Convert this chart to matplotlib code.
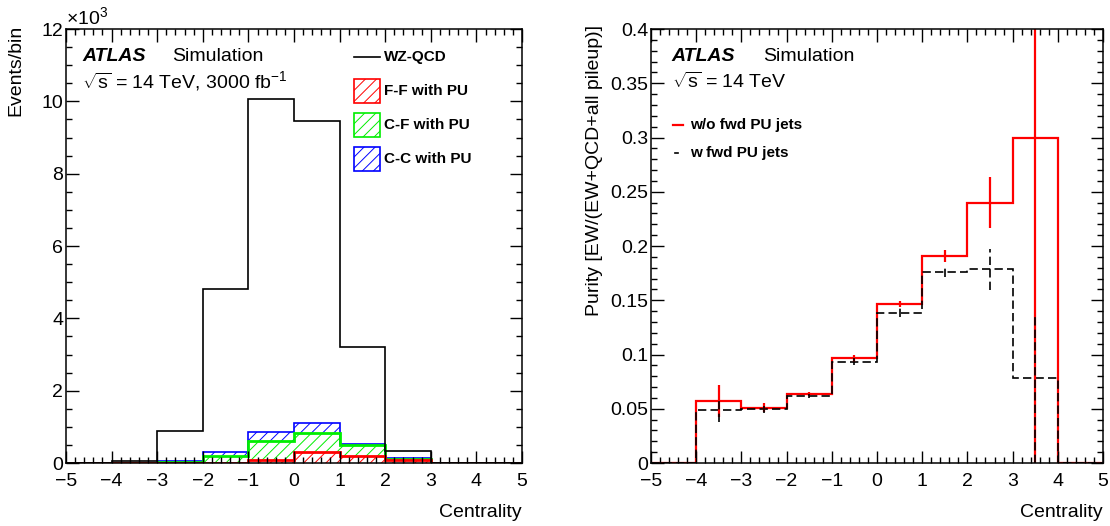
import numpy as np
import matplotlib
matplotlib.use("Agg")
import matplotlib.pyplot as plt
from matplotlib.ticker import MultipleLocator, FuncFormatter
from matplotlib.patches import Rectangle
from matplotlib.lines import Line2D

plt.rcParams['font.family'] = ['Liberation Sans', 'DejaVu Sans']
plt.rcParams['mathtext.fontset'] = 'custom'
plt.rcParams['mathtext.rm'] = 'Liberation Sans'
plt.rcParams['mathtext.it'] = 'Liberation Sans:italic'
plt.rcParams['hatch.linewidth'] = 0.7

# Bin edges in centrality
edges = np.arange(-5, 6, 1)

# Left panel: events/bin in units of 10^3
wz_qcd = [0, 0.05, 0.89, 4.80, 10.07, 9.47, 3.21, 0.32, 0, 0]
ff_pu = [0, 0, 0, 0.01, 0.07, 0.30, 0.19, 0.09, 0, 0]
cf_pu = [0, 0, 0.04, 0.18, 0.55, 0.52, 0.30, 0.03, 0, 0]
cc_pu = [0, 0, 0.01, 0.11, 0.23, 0.29, 0.03, 0.01, 0, 0]

# Right panel: purity
pur_nopu = [0, 0.057, 0.051, 0.0635, 0.0965, 0.1465, 0.191, 0.240, 0.300, 0]
err_nopu = [0, 0.015, 0.004, 0.002, 0.003, 0.003, 0.0055, 0.0235, 0.33, 0]
pur_pu = [0, 0.049, 0.0495, 0.062, 0.0935, 0.1385, 0.176, 0.1785, 0.078, 0]
err_pu_dn = [0, 0.0115, 0.003, 0.002, 0.003, 0.004, 0.005, 0.019, 0.078, 0]
err_pu_up = [0, 0.0115, 0.003, 0.002, 0.003, 0.004, 0.005, 0.019, 0.058, 0]

stack_labels = ['F-F with PU', 'C-F with PU', 'C-C with PU']
stack_colors = ['#ff0000', '#00ee00', '#0000ff']
stack_lw = [2.0, 2.0, 1.2]

fig = plt.figure(figsize=(11.1, 5.26), dpi=100)
ax1 = fig.add_axes([66 / 1110, 1 - 463 / 526, 456 / 1110, 434 / 526])
ax2 = fig.add_axes([651 / 1110, 1 - 463 / 526, 452 / 1110, 434 / 526])


def style_axes(ax, ymajor, yminor):
    ax.set_xlim(-5, 5)
    ax.xaxis.set_major_locator(MultipleLocator(1))
    ax.xaxis.set_minor_locator(MultipleLocator(0.2))
    ax.yaxis.set_major_locator(MultipleLocator(ymajor))
    ax.yaxis.set_minor_locator(MultipleLocator(yminor))
    ax.tick_params(which='both', direction='in', top=True, right=True,
                   labelsize=14, width=1)
    ax.tick_params(which='major', length=9)
    ax.tick_params(which='minor', length=4.5)
    ax.tick_params(axis='x', pad=7)
    ax.tick_params(axis='y', pad=2)
    for s in ax.spines.values():
        s.set_linewidth(1.1)
    ax.yaxis.set_major_formatter(FuncFormatter(lambda v, p: f'{v:g}'))
    ax.text(1.0, -0.113, 'Centrality', transform=ax.transAxes, ha='right',
            va='center', fontsize=14)


def atlas_label(ax, x, x2, energy):
    ax.text(x, 0.926, 'ATLAS', transform=ax.transAxes, fontsize=14,
            fontweight='bold', fontstyle='italic', va='baseline')
    ax.text(x2, 0.926, 'Simulation', transform=ax.transAxes, fontsize=14,
            va='baseline')
    ax.text(x, 0.864, energy, transform=ax.transAxes, fontsize=14,
            va='baseline')


# ---- left panel ----
cum = np.zeros(len(wz_qcd))
tops = []
for vals in [ff_pu, cf_pu, cc_pu]:
    cum = cum + np.array(vals)
    tops.append(cum.copy())

bottom = np.zeros(len(wz_qcd))
for top, col in zip(tops, stack_colors):
    ax1.fill_between(edges, np.append(bottom, bottom[-1]), np.append(top, top[-1]),
                     step='post', facecolor='none', edgecolor=col, hatch='///',
                     linewidth=0)
    bottom = top
for top, col, lw in reversed(list(zip(tops, stack_colors, stack_lw))):
    ax1.stairs(top, edges, color=col, lw=lw, baseline=0)
ax1.stairs(wz_qcd, edges, color='black', lw=1.2, baseline=None)

style_axes(ax1, 2, 0.5)
ax1.set_ylim(0, 12)
ax1.text(0.0, 1.003, r'$\times10^{3}$', transform=ax1.transAxes, fontsize=14,
         va='bottom', ha='left')
ax1.text(-0.110, 1.009, 'Events/bin', transform=ax1.transAxes, rotation=90,
         ha='center', va='top', fontsize=14)
atlas_label(ax1, 0.035, 0.232, r'$\sqrt{\rm s}$ = 14 TeV, 3000 fb$^{-1}$')

# legend (drawn by hand)
ax1.add_line(Line2D([0.632, 0.689], [0.9355, 0.9355], transform=ax1.transAxes,
                    color='black', lw=1.2))
ax1.text(0.697, 0.9355, 'WZ-QCD', transform=ax1.transAxes, fontsize=11,
         fontweight='bold', va='center')
for i, (lab, col) in enumerate(zip(stack_labels, stack_colors)):
    yc = 0.857 - i * 0.0785
    ax1.add_patch(Rectangle((0.632, yc - 0.028), 0.057, 0.056,
                            transform=ax1.transAxes, facecolor='none',
                            edgecolor=col, hatch='///', lw=1.2))
    ax1.text(0.697, yc, lab, transform=ax1.transAxes, fontsize=11,
             fontweight='bold', va='center')

# ---- right panel ----
centers = 0.5 * (edges[:-1] + edges[1:])
nz1 = np.array(pur_nopu) > 0
nz2 = np.array(pur_pu) > 0

ax2.stairs(pur_nopu, edges, color='#ff0000', lw=1.6, baseline=None)
ax2.errorbar(centers[nz1], np.array(pur_nopu)[nz1], yerr=np.array(err_nopu)[nz1],
             fmt='none', ecolor='#ff0000', elinewidth=1.6, capsize=0)
ax2.stairs(pur_pu, edges, color='black', lw=1.2, baseline=None,
           linestyle=(0, (5, 2.5)))
eb = ax2.errorbar(centers[nz2], np.array(pur_pu)[nz2],
                  yerr=[np.array(err_pu_dn)[nz2], np.array(err_pu_up)[nz2]],
                  fmt='none', ecolor='black', elinewidth=1.2, capsize=0)
eb[2][0].set_linestyle((0, (5, 2.5)))

style_axes(ax2, 0.05, 0.01)
ax2.set_ylim(0, 0.4)
ax2.text(-0.126, 1.009, 'Purity [EW/(EW+QCD+all pileup)]', transform=ax2.transAxes,
         rotation=90, ha='center', va='top', fontsize=14)
atlas_label(ax2, 0.046, 0.248, r'$\sqrt{\rm s}$ = 14 TeV')

ax2.add_line(Line2D([0.0487, 0.0708], [0.779, 0.779], transform=ax2.transAxes,
                    color='#ff0000', lw=1.6))
ax2.text(0.0863, 0.779, 'w/o fwd PU jets', transform=ax2.transAxes, fontsize=11,
         fontweight='bold', va='center')
ax2.add_line(Line2D([0.052, 0.060], [0.714, 0.714], transform=ax2.transAxes,
                    color='black', lw=1.2))
ax2.text(0.0863, 0.714, 'w fwd PU jets', transform=ax2.transAxes, fontsize=11,
         fontweight='bold', va='center')

fig.savefig('out.png', dpi=100)
